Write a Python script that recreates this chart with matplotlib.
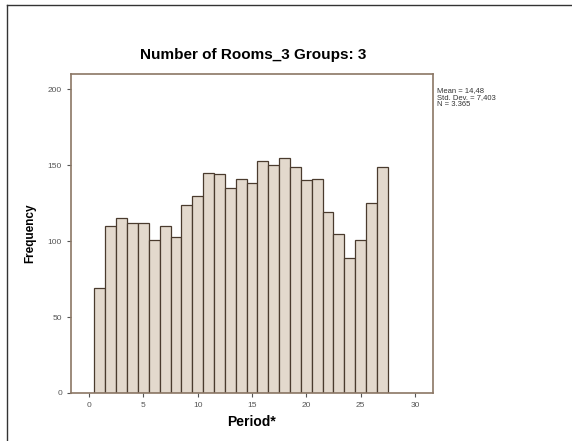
import numpy as np
import matplotlib
matplotlib.use("Agg")
import matplotlib.pyplot as plt
from matplotlib.lines import Line2D

# data histogram (bin tengah 1..27)
periods = np.arange(1, 28)
freq = [69, 110, 115, 112, 112, 101, 110, 103, 124, 130, 145, 144, 135, 141,
        138, 153, 150, 155, 149, 140, 141, 119, 105, 89, 101, 125, 149]
xticks = [0, 5, 10, 15, 20, 25, 30]
yticks = [0, 50, 100, 150, 200]
stats_text = "Mean = 14,48\nStd. Dev. = 7,403\nN = 3.365"

plt.rcParams['font.family'] = ['Liberation Sans', 'DejaVu Sans']

fig = plt.figure(figsize=(5.72, 4.41), dpi=100)
fig.patch.set_facecolor("white")

# bingkai luar (kiri dan atas saja)
fig.add_artist(Line2D([7/572, 7/572], [0, 1 - 4.5/441], color="#333333", lw=1.0))
fig.add_artist(Line2D([7/572, 1], [1 - 4.5/441, 1 - 4.5/441], color="#333333", lw=1.0))

ax = fig.add_axes([0.124, 0.109, 0.633, 0.723])
ax.bar(periods, freq, width=1.0, color="#E3D9CD", edgecolor="#4A3B2E", linewidth=0.9)

ax.set_xlim(-1.67, 31.67)
ax.set_ylim(0, 210)
ax.set_xticks(xticks)
ax.set_yticks(yticks)
ax.tick_params(axis="both", labelsize=6, colors="#555555", length=3, width=0.8, direction="out")
for s in ax.spines.values():
    s.set_color("#8B7765")
    s.set_linewidth(1.2)

ax.set_xlabel("Period*", fontsize=10, fontweight="bold", labelpad=4)
ax.set_ylabel("Frequency", fontsize=8.5, fontweight="bold", labelpad=8)
fig.text(253/572, 1 - 55/441, "Number of Rooms_3 Groups: 3", ha="center", va="center",
         fontsize=11, fontweight="bold")
fig.text(437/572, 1 - 87/441, stats_text, ha="left", va="top", fontsize=5.5,
         color="#333333", linespacing=1.05)

fig.savefig("out.png", dpi=100)
